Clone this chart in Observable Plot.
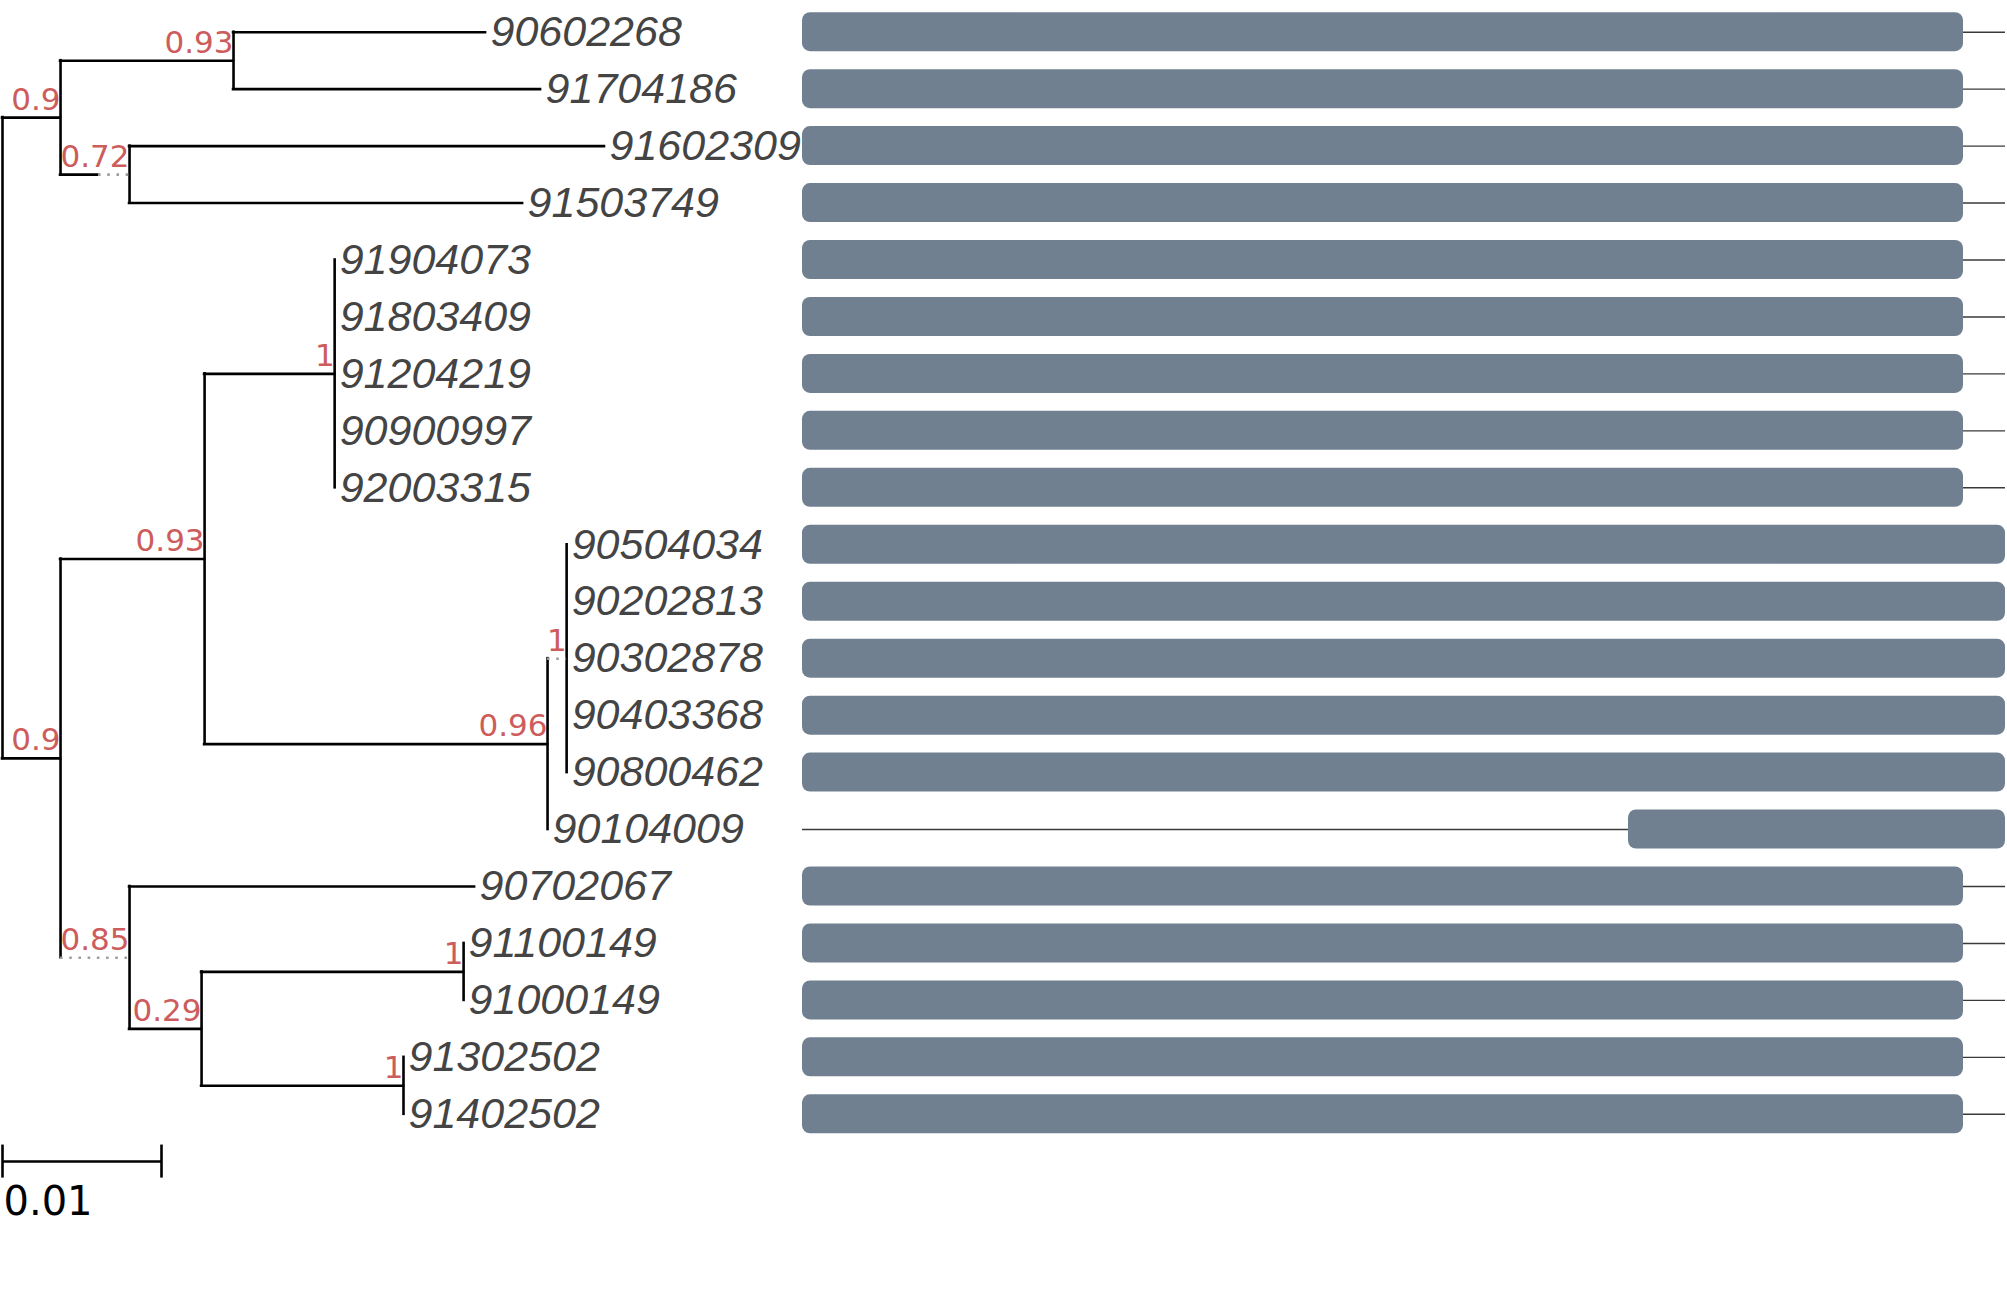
<!DOCTYPE html>
<html>
<head>
<meta charset="utf-8">
<script src="https://cdn.jsdelivr.net/npm/d3@7"></script>
<script src="https://cdn.jsdelivr.net/npm/@observablehq/plot@0.6"></script>
<style>
html, body { margin: 0; padding: 0; background: #ffffff; }
#wrap { position: relative; width: 2007px; height: 1303px; overflow: hidden; }
#wrap svg { position: absolute; left: 0; top: 0; }
</style>
</head>
<body>
<div id="wrap"></div>
<script>
// ---- tip order (top to bottom) ----
const tipLabels = [
  "90602268","91704186","91602309","91503749",
  "91904073","91803409","91204219","90900997","92003315",
  "90504034","90202813","90302878","90403368","90800462","90104009",
  "90702067","91100149","91000149","91302502","91402502"
];

// ---- tree (parents listed before children) ----
const nodeNames = [
  "root","A","T93","90602268","91704186","N72","91602309","91503749",
  "B","L93","C1","91904073","91803409","91204219","90900997","92003315",
  "N96","C1b","90504034","90202813","90302878","90403368","90800462","90104009",
  "N85","90702067","N29","C911","91100149","91000149","C913","91302502","91402502"
];
const nodeParents = [
  null,"root","A","T93","T93","A","N72","N72",
  "root","B","L93","C1","C1","C1","C1","C1",
  "L93","N96","C1b","C1b","C1b","C1b","C1b","N96",
  "B","N85","N85","N29","C911","C911","N29","C913","C913"
];
const branchLengths = [
  0,0.00365,0.01088,0.01585,0.01931,0.00434,0.02987,0.02472,
  0.00365,0.00906,0.00818,0,0,0,0,0,
  0.02157,0.0012,0,0,0,0,0,0,
  0.00434,0.0217,0.00453,0.01648,0,0,0.0127,0,0
];
const dottedLengths = [
  0,0,0,0,0,0.00195,0,0,
  0,0,0,0,0,0,0,0,
  0,0.0012,0,0,0,0,0,0,
  0.00434,0,0,0,0,0,0,0,0
];
const supportValues = [
  null,0.9,0.93,null,null,0.72,null,null,
  0.9,0.93,1,null,null,null,null,null,
  0.96,1,null,null,null,null,null,null,
  0.85,null,0.29,1,null,null,1,null,null
];
const scaleBarLength = 0.01;

// ---- alignment coverage ----
const alignmentLength = 1203;
const seqStart = [0,0,0,0, 0,0,0,0,0, 0,0,0,0,0,826, 0,0,0,0,0];
const seqEnd   = [1161,1161,1161,1161, 1161,1161,1161,1161,1161, 1203,1203,1203,1203,1203,1203, 1161,1161,1161,1161,1161];

// ---- layout ----
const nodes = nodeNames.map((name, i) => ({
  name, parent: nodeParents[i], len: branchLengths[i], dot: dottedLengths[i],
  support: supportValues[i], children: []
}));
const byName = new Map(nodes.map(n => [n.name, n]));
nodes.forEach(n => { if (n.parent) byName.get(n.parent).children.push(n); });
nodes.forEach(n => { n.x = n.parent ? byName.get(n.parent).x + n.len : 0; });
function setY(n) {
  if (!n.children.length) n.y = tipLabels.indexOf(n.name);
  else { n.children.forEach(setY); n.y = d3.mean(n.children, c => c.y); }
}
setY(byName.get("root"));

const solidH = [], dotH = [], verts = [];
nodes.forEach(n => {
  if (n.parent) {
    const px = byName.get(n.parent).x;
    const xs = n.x - n.dot;
    if (xs > px + 1e-9) solidH.push({x1: px, x2: xs, y: n.y});
    if (n.dot > 0) dotH.push({x1: xs, x2: n.x, y: n.y});
  }
  if (n.children.length) {
    verts.push({x: n.x, y1: d3.min(n.children, c => c.y), y2: d3.max(n.children, c => c.y)});
  }
});
const tips = nodes.filter(n => !n.children.length);
const supported = nodes.filter(n => n.support != null);

const nTips = tipLabels.length;
const barRow = nTips - 0.17;

const W = 2007, H = 1303;
const yRange = [31.7, 1113.8];

const tree = Plot.plot({
  width: W, height: H, margin: 0,
  style: {background: "transparent", overflow: "visible"},
  x: {domain: [0, 0.05], range: [2, 797], axis: null},
  y: {domain: [0, nTips - 1], range: yRange, axis: null},
  marks: [
    Plot.ruleY(solidH, {x1: "x1", x2: "x2", y: "y", stroke: "#000", strokeWidth: 2.6, strokeLinecap: "square"}),
    Plot.ruleX(verts, {x: "x", y1: "y1", y2: "y2", stroke: "#000", strokeWidth: 2.6, strokeLinecap: "square"}),
    Plot.ruleY(dotH, {x1: "x1", x2: "x2", y: "y", stroke: "#9e9e9e", strokeWidth: 2.6, strokeDasharray: "2.6,6.6"}),
    Plot.text(tips, {x: "x", y: "y", text: "name", textAnchor: "start", dx: 5,
      fontFamily: "Liberation Sans", fontStyle: "italic", fontSize: 43, fill: "#444444"}),
    Plot.text(supported, {x: "x", y: "y", text: d => String(d.support), textAnchor: "end", lineAnchor: "bottom", dy: -8,
      fontFamily: "DejaVu Sans", fontSize: 31, fill: "indianred"}),
    Plot.ruleY([{x1: 0, x2: scaleBarLength, y: barRow}], {x1: "x1", x2: "x2", y: "y", stroke: "#000", strokeWidth: 2.6}),
    Plot.ruleX([0, scaleBarLength], {x: d => d, y1: barRow - 0.29, y2: barRow + 0.29, stroke: "#000", strokeWidth: 2.6}),
    Plot.text([String(scaleBarLength)], {x: 0, y: barRow + 0.93, text: d => d, textAnchor: "start", lineAnchor: "bottom", dx: 1,
      fontFamily: "DejaVu Sans", fontSize: 40, fill: "#000"})
  ]
});

const rows = tipLabels.map((name, i) => ({name, start: seqStart[i], end: seqEnd[i]}));
const aln = Plot.plot({
  width: W, height: H, margin: 0,
  style: {background: "transparent", overflow: "visible"},
  x: {domain: [0, alignmentLength], range: [802, 2005], axis: null},
  y: {type: "band", domain: tipLabels, range: [yRange[0] - 28.475, yRange[1] + 28.475],
      paddingInner: 0.315, paddingOuter: 0.1575, round: false, axis: null},
  marks: [
    Plot.ruleY(rows, {x1: d => 0, x2: d => alignmentLength, y: "name", stroke: "#3a3a3a", strokeWidth: 1.4}),
    Plot.barX(rows, {x1: "start", x2: "end", y: "name", fill: "#708090", rx: 8})
  ]
});

const wrap = document.getElementById("wrap");
wrap.appendChild(tree);
wrap.appendChild(aln);
</script>
</body>
</html>
